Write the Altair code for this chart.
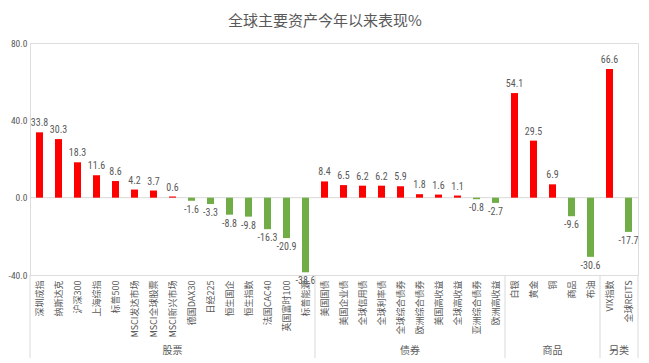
import altair as alt
import pandas as pd

categories = ["深圳成指", "纳斯达克", "沪深300", "上海综指", "标普500", "MSCI发达市场", "MSCI全球股票",
              "MSCI新兴市场", "德国DAX30", "日经225", "恒生国企", "恒生指数", "法国CAC40", "英国富时100",
              "标普能源", "美国国债", "美国企业债", "全球信用债", "全球利率债", "全球综合债券", "欧洲综合债券",
              "美国高收益", "全球高收益", "亚洲综合债券", "欧洲高收益", "白银", "黄金", "铜", "商品", "布油",
              "VIX指数", "全球REITS"]
values = [33.8, 30.3, 18.3, 11.6, 8.6, 4.2, 3.7, 0.6, -1.6, -3.3, -8.8, -9.8, -16.3, -20.9, -38.6,
          8.4, 6.5, 6.2, 6.2, 5.9, 1.8, 1.6, 1.1, -0.8, -2.7,
          54.1, 29.5, 6.9, -9.6, -30.6,
          66.6, -17.7]
groups = ["股票"] * 15 + ["债券"] * 10 + ["商品"] * 5 + ["另类"] * 2
group_names = ["股票", "债券", "商品", "另类"]
title_text = "全球主要资产今年以来表现%"
y_ticks = [-40, -20, 0, 20, 40, 60, 80]

df = pd.DataFrame({"cat": categories, "val": values, "grp": groups})
df["sign"] = ["pos" if v >= 0 else "neg" for v in values]

W, H = 608, 232
GRAY = "#595959"
LINE = "#D9D9D9"
FONT = "Noto Sans CJK SC"
NUMFONT = "Liberation Sans Narrow, Roboto Condensed, Liberation Sans"

xscale = alt.Scale(domain=categories, paddingInner=0, paddingOuter=0)
yscale = alt.Scale(domain=[-40, 80], nice=False, zero=False)

x_enc = alt.X("cat:N", sort=categories, scale=xscale,
              axis=alt.Axis(title=None, labelAngle=270, labelAlign="right", labelBaseline="middle",
                            labelFontSize=9, labelColor=GRAY, labelFont=FONT, labelPadding=5,
                            ticks=False, domain=False, labelOverlap=False, labelLimit=200))
y_enc = alt.Y("val:Q", scale=yscale,
              axis=alt.Axis(title=None, values=y_ticks, grid=False, ticks=False,
                            labelExpr="replace(format(datum.value, '.1f'), '\u2212', '-')",
                            domain=False, labelFontSize=9.5, labelColor=GRAY, labelPadding=3,
                            labelFont=NUMFONT))

base = alt.Chart(df).transform_calculate(
    lbl="replace(format(datum.val, '.1f'), '\u2212', '-')")

zero = alt.Chart(pd.DataFrame({"z": [0]})).mark_rule(color=LINE, strokeWidth=1).encode(
    y=alt.Y("z:Q", scale=yscale))

bars = base.mark_bar(size=7).encode(
    x=x_enc, y=y_enc,
    color=alt.Color("sign:N", scale=alt.Scale(domain=["pos", "neg"], range=["#FF0000", "#70AD47"]),
                    legend=None))

pos_lbl = base.transform_filter("datum.val >= 0").mark_text(
    baseline="bottom", dy=-4, fontSize=10, color=GRAY, font=NUMFONT).encode(
    x=alt.X("cat:N", sort=categories, scale=xscale), y=alt.Y("val:Q", scale=yscale),
    text="lbl:N")

neg_lbl = base.transform_filter("datum.val < 0").mark_text(
    baseline="top", dy=4, fontSize=10, color=GRAY, font=NUMFONT).encode(
    x=alt.X("cat:N", sort=categories, scale=xscale), y=alt.Y("val:Q", scale=yscale),
    text="lbl:N")

sep_start = pd.DataFrame({"cat": ["深圳成指", "美国国债", "白银", "VIX指数"]})
sep_end = pd.DataFrame({"cat": ["全球REITS"]})
seps0 = alt.Chart(sep_start).mark_rule(color=LINE, strokeWidth=1).encode(
    x=alt.X("cat:N", sort=categories, scale=xscale, bandPosition=0),
    y=alt.value(H), y2=alt.value(H + 83))
seps1 = alt.Chart(sep_end).mark_rule(color=LINE, strokeWidth=1).encode(
    x=alt.X("cat:N", sort=categories, scale=xscale, bandPosition=1),
    y=alt.value(H), y2=alt.value(H + 83))

g_mid = pd.DataFrame({"gcat": ["MSCI新兴市场", "铜"], "gname": ["股票", "商品"]})
g_edge = pd.DataFrame({"gcat": ["全球综合债券", "VIX指数"], "gname": ["债券", "另类"]})
grp0 = alt.Chart(g_mid).mark_text(fontSize=10, color=GRAY, font=FONT, baseline="middle",
                                  align="center", angle=0).encode(
    x=alt.X("gcat:N", sort=categories, scale=xscale),
    y=alt.value(H + 76), text="gname:N")
grp1 = alt.Chart(g_edge).mark_text(fontSize=10, color=GRAY, font=FONT, baseline="middle",
                                   align="center", angle=0).encode(
    x=alt.X("gcat:N", sort=categories, scale=xscale, bandPosition=1),
    y=alt.value(H + 76), text="gname:N")

title = alt.Chart(pd.DataFrame({"t": [title_text]})).mark_text(
    fontSize=15, color=GRAY, font=FONT, baseline="middle").encode(
    x=alt.value(295), y=alt.value(-22), text="t:N")

chart = alt.layer(zero, bars, pos_lbl, neg_lbl, seps0, seps1, grp0, grp1, title).properties(
    width=W, height=H,
    autosize=alt.AutoSizeParams(type="none"),
    padding={"left": 22, "top": 35, "right": 3, "bottom": 85},
).configure_view(stroke=None).configure(background="white")

chart.save("out.html", embed_options={"renderer": "svg", "actions": False})
